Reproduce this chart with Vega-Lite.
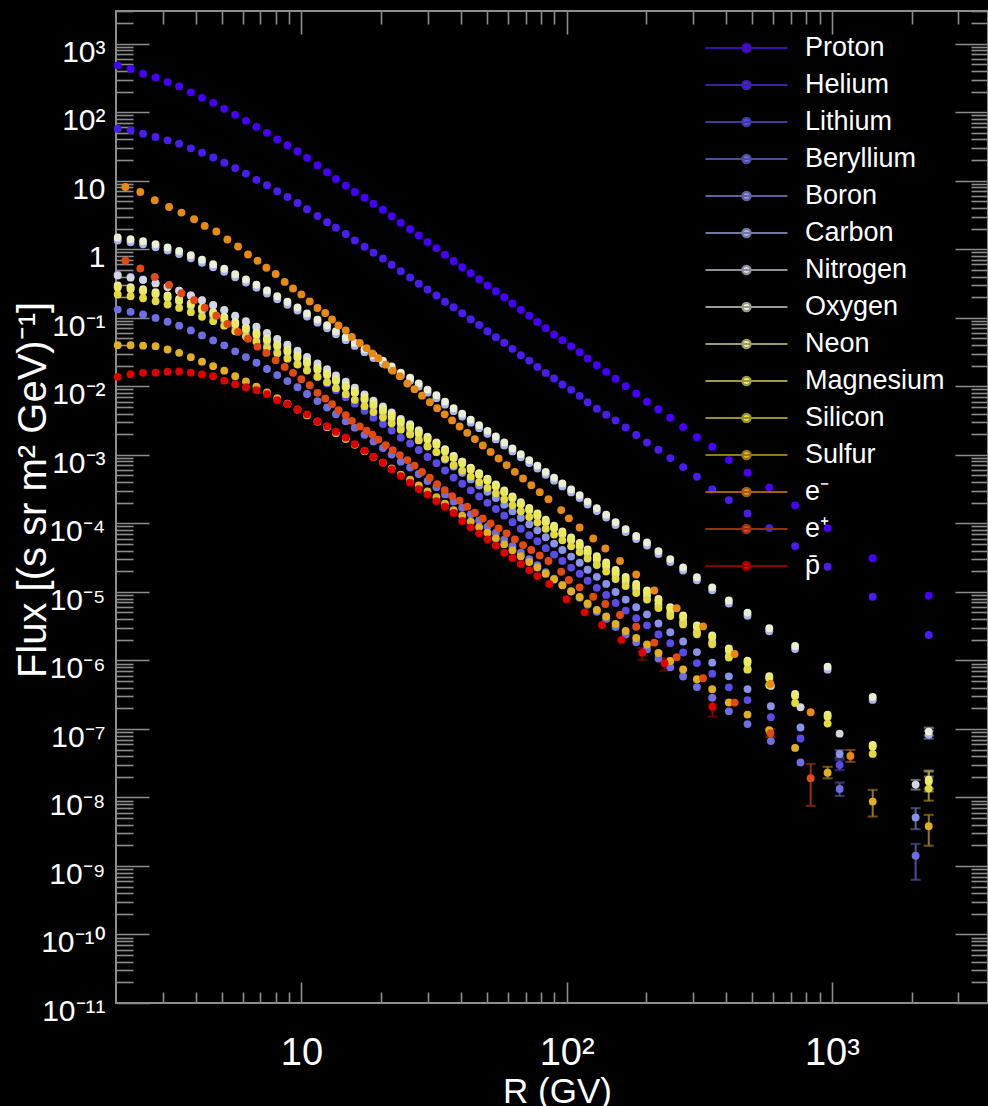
{
"$schema":"https://vega.github.io/schema/vega-lite/v6.json",
"background":"black",
"width":872,"height":992,
"autosize":{"type":"none"},
"padding":{"left":116,"top":11,"right":0,"bottom":103},
"config":{
 "view":{"stroke":"#8c8c8c","strokeWidth":2},
 "axis":{"grid":false,"domain":false,"tickColor":"#8c8c8c","tickWidth":1.6,"labelColor":"#ffffff","titleColor":"#ffffff"},
 "legend":{"symbolType":"M-1,0H1M0.1,0A0.1,0.1,0,1,1,-0.1,0A0.1,0.1,0,1,1,0.1,0Z","symbolSize":6724,"symbolStrokeWidth":2.2,"symbolOpacity":1,"labelFont":"Liberation Sans","labelFontSize":27,"labelColor":"#ffffff","labelOffset":16,"clipHeight":36.57,"rowPadding":0,"padding":0,"labelLimit":300}
},
"resolve":{"axis":{"x":"independent","y":"independent"}},
"data":{"values":[
{"s":"Proton","R":2.03,"F":483},{"s":"Proton","R":2.27,"F":432},{"s":"Proton","R":2.53,"F":365},{"s":"Proton","R":2.82,"F":322},{"s":"Proton","R":3.13,"F":275},{"s":"Proton","R":3.46,"F":238},{"s":"Proton","R":3.83,"F":195},{"s":"Proton","R":4.22,"F":162},{"s":"Proton","R":4.65,"F":137},{"s":"Proton","R":5.12,"F":112},{"s":"Proton","R":5.63,"F":91.5},{"s":"Proton","R":6.18,"F":74.8},{"s":"Proton","R":6.77,"F":61.2},{"s":"Proton","R":7.42,"F":50.0},{"s":"Proton","R":8.11,"F":40.2},{"s":"Proton","R":8.86,"F":32.9},{"s":"Proton","R":9.67,"F":26.9},{"s":"Proton","R":10.5,"F":21.6},{"s":"Proton","R":11.5,"F":16.8},{"s":"Proton","R":12.5,"F":13.3},{"s":"Proton","R":13.5,"F":10.6},{"s":"Proton","R":14.7,"F":8.49},{"s":"Proton","R":15.9,"F":6.85},{"s":"Proton","R":17.3,"F":5.64},{"s":"Proton","R":18.7,"F":4.61},{"s":"Proton","R":20.3,"F":3.77},{"s":"Proton","R":21.9,"F":3.03},{"s":"Proton","R":23.7,"F":2.44},{"s":"Proton","R":25.7,"F":1.96},{"s":"Proton","R":27.7,"F":1.585},{"s":"Proton","R":29.9,"F":1.278},{"s":"Proton","R":32.3,"F":1.035},{"s":"Proton","R":34.8,"F":0.832},{"s":"Proton","R":37.5,"F":0.673},{"s":"Proton","R":40.4,"F":0.547},{"s":"Proton","R":43.5,"F":0.447},{"s":"Proton","R":46.8,"F":0.365},{"s":"Proton","R":50.3,"F":0.2956},{"s":"Proton","R":54.1,"F":0.244},{"s":"Proton","R":58.2,"F":0.1996},{"s":"Proton","R":62.5,"F":0.1615},{"s":"Proton","R":67.2,"F":0.1312},{"s":"Proton","R":72.3,"F":0.1072},{"s":"Proton","R":77.6,"F":0.0871},{"s":"Proton","R":83.4,"F":0.0705},{"s":"Proton","R":89.7,"F":0.0571},{"s":"Proton","R":96.4,"F":0.0471},{"s":"Proton","R":104,"F":0.0385},{"s":"Proton","R":112,"F":0.0315},{"s":"Proton","R":120,"F":0.0255},{"s":"Proton","R":130,"F":0.0203},{"s":"Proton","R":141,"F":0.01624},{"s":"Proton","R":153,"F":0.01293},{"s":"Proton","R":167,"F":0.01005},{"s":"Proton","R":183,"F":0.00781},{"s":"Proton","R":201,"F":0.00597},{"s":"Proton","R":222,"F":0.00464},{"s":"Proton","R":246,"F":0.00347},{"s":"Proton","R":275,"F":0.00254},{"s":"Proton","R":310,"F":0.00181},{"s":"Proton","R":354,"F":0.00131},{"s":"Proton","R":409,"F":0.000838},{"s":"Proton","R":481,"F":0.000547},{"s":"Proton","R":581,"F":0.000335},{"s":"Proton","R":727,"F":0.000183},{"s":"Proton","R":964,"F":8.53e-5},{"s":"Proton","R":1426,"F":3.09e-5},{"s":"Proton","R":2320,"F":8.79e-6},
{"s":"Helium","R":2.03,"F":57.6},{"s":"Helium","R":2.27,"F":54.4},{"s":"Helium","R":2.53,"F":48.7},{"s":"Helium","R":2.82,"F":43.4},{"s":"Helium","R":3.13,"F":38.9},{"s":"Helium","R":3.46,"F":34.6},{"s":"Helium","R":3.83,"F":29.7},{"s":"Helium","R":4.22,"F":25.6},{"s":"Helium","R":4.65,"F":21.8},{"s":"Helium","R":5.12,"F":18.3},{"s":"Helium","R":5.63,"F":15.3},{"s":"Helium","R":6.18,"F":12.7},{"s":"Helium","R":6.77,"F":10.3},{"s":"Helium","R":7.42,"F":8.58},{"s":"Helium","R":8.11,"F":7.01},{"s":"Helium","R":8.86,"F":5.79},{"s":"Helium","R":9.67,"F":4.74},{"s":"Helium","R":10.5,"F":3.83},{"s":"Helium","R":11.5,"F":3.06},{"s":"Helium","R":12.5,"F":2.48},{"s":"Helium","R":13.5,"F":2.06},{"s":"Helium","R":14.7,"F":1.672},{"s":"Helium","R":15.9,"F":1.34},{"s":"Helium","R":17.3,"F":1.088},{"s":"Helium","R":18.7,"F":0.889},{"s":"Helium","R":20.3,"F":0.732},{"s":"Helium","R":21.9,"F":0.594},{"s":"Helium","R":23.7,"F":0.478},{"s":"Helium","R":25.7,"F":0.387},{"s":"Helium","R":27.7,"F":0.314},{"s":"Helium","R":29.9,"F":0.2585},{"s":"Helium","R":32.3,"F":0.2113},{"s":"Helium","R":34.8,"F":0.1716},{"s":"Helium","R":37.5,"F":0.1427},{"s":"Helium","R":40.4,"F":0.1166},{"s":"Helium","R":43.5,"F":0.0954},{"s":"Helium","R":46.8,"F":0.0785},{"s":"Helium","R":50.3,"F":0.0637},{"s":"Helium","R":54.1,"F":0.0521},{"s":"Helium","R":58.2,"F":0.0433},{"s":"Helium","R":62.5,"F":0.0352},{"s":"Helium","R":67.2,"F":0.0285},{"s":"Helium","R":72.3,"F":0.0237},{"s":"Helium","R":77.6,"F":0.0192},{"s":"Helium","R":83.4,"F":0.0157},{"s":"Helium","R":89.7,"F":0.01302},{"s":"Helium","R":96.4,"F":0.01064},{"s":"Helium","R":104,"F":0.00888},{"s":"Helium","R":112,"F":0.00726},{"s":"Helium","R":120,"F":0.00587},{"s":"Helium","R":130,"F":0.00472},{"s":"Helium","R":141,"F":0.00386},{"s":"Helium","R":153,"F":0.00318},{"s":"Helium","R":167,"F":0.00251},{"s":"Helium","R":183,"F":0.00195},{"s":"Helium","R":201,"F":0.001508},{"s":"Helium","R":222,"F":0.001184},{"s":"Helium","R":246,"F":0.000896},{"s":"Helium","R":275,"F":0.000662},{"s":"Helium","R":310,"F":0.000478},{"s":"Helium","R":354,"F":0.000313},{"s":"Helium","R":409,"F":0.0002186},{"s":"Helium","R":481,"F":0.0001398},{"s":"Helium","R":581,"F":8.53e-5},{"s":"Helium","R":727,"F":4.66e-5},{"s":"Helium","R":964,"F":2.33e-5},{"s":"Helium","R":1426,"F":8.5e-6},{"s":"Helium","R":2320,"F":2.35e-6},
{"s":"Lithium","R":2.03,"F":0.2946},{"s":"Lithium","R":2.27,"F":0.2733},{"s":"Lithium","R":2.53,"F":0.2509},{"s":"Lithium","R":2.82,"F":0.2228},{"s":"Lithium","R":3.13,"F":0.1959},{"s":"Lithium","R":3.46,"F":0.1719},{"s":"Lithium","R":3.83,"F":0.1464},{"s":"Lithium","R":4.22,"F":0.1238},{"s":"Lithium","R":4.65,"F":0.1048},{"s":"Lithium","R":5.12,"F":0.0887},{"s":"Lithium","R":5.63,"F":0.0725},{"s":"Lithium","R":6.18,"F":0.0598},{"s":"Lithium","R":6.77,"F":0.0495},{"s":"Lithium","R":7.42,"F":0.0401},{"s":"Lithium","R":8.11,"F":0.0326},{"s":"Lithium","R":8.86,"F":0.0267},{"s":"Lithium","R":9.67,"F":0.02165},{"s":"Lithium","R":10.5,"F":0.01731},{"s":"Lithium","R":11.5,"F":0.01361},{"s":"Lithium","R":12.5,"F":0.01098},{"s":"Lithium","R":13.5,"F":0.00875},{"s":"Lithium","R":14.7,"F":0.00694},{"s":"Lithium","R":15.9,"F":0.00558},{"s":"Lithium","R":17.3,"F":0.00438},{"s":"Lithium","R":18.7,"F":0.00349},{"s":"Lithium","R":20.3,"F":0.00282},{"s":"Lithium","R":21.9,"F":0.00226},{"s":"Lithium","R":23.7,"F":0.001779},{"s":"Lithium","R":25.7,"F":0.001464},{"s":"Lithium","R":27.7,"F":0.001175},{"s":"Lithium","R":29.9,"F":0.000929},{"s":"Lithium","R":32.3,"F":0.000752},{"s":"Lithium","R":34.8,"F":0.000591},{"s":"Lithium","R":37.5,"F":0.000465},{"s":"Lithium","R":40.4,"F":0.000379},{"s":"Lithium","R":43.5,"F":0.000303},{"s":"Lithium","R":46.8,"F":0.000246},{"s":"Lithium","R":50.3,"F":0.0001992},{"s":"Lithium","R":54.1,"F":0.0001617},{"s":"Lithium","R":58.2,"F":0.0001294},{"s":"Lithium","R":62.5,"F":0.0001037},{"s":"Lithium","R":67.2,"F":8.33e-5},{"s":"Lithium","R":72.3,"F":6.71e-5},{"s":"Lithium","R":77.6,"F":5.47e-5},{"s":"Lithium","R":83.4,"F":4.34e-5},{"s":"Lithium","R":89.7,"F":3.5e-5},{"s":"Lithium","R":96.4,"F":2.82e-5},{"s":"Lithium","R":104,"F":2.26e-5},{"s":"Lithium","R":112,"F":1.835e-5},{"s":"Lithium","R":120,"F":1.451e-5},{"s":"Lithium","R":130,"F":1.146e-5},{"s":"Lithium","R":141,"F":9.03e-6},{"s":"Lithium","R":153,"F":6.88e-6},{"s":"Lithium","R":167,"F":5.33e-6},{"s":"Lithium","R":183,"F":4.13e-6},{"s":"Lithium","R":201,"F":3.25e-6},{"s":"Lithium","R":222,"F":2.384e-6},{"s":"Lithium","R":246,"F":1.777e-6},{"s":"Lithium","R":275,"F":1.305e-6},{"s":"Lithium","R":310,"F":9.13e-7},{"s":"Lithium","R":354,"F":6.4e-7},{"s":"Lithium","R":409,"F":4.04e-7},{"s":"Lithium","R":481,"F":2.633e-7},{"s":"Lithium","R":589,"F":1.486e-7},{"s":"Lithium","R":762,"F":7.25e-8},{"s":"Lithium","R":1070,"F":2.98e-8,"lo":2.5e-8,"hi":3.5e-8},
{"s":"Beryllium","R":2.03,"F":0.1316},{"s":"Beryllium","R":2.27,"F":0.1221},{"s":"Beryllium","R":2.53,"F":0.1121},{"s":"Beryllium","R":2.82,"F":0.0995},{"s":"Beryllium","R":3.13,"F":0.0875},{"s":"Beryllium","R":3.46,"F":0.0768},{"s":"Beryllium","R":3.83,"F":0.0654},{"s":"Beryllium","R":4.22,"F":0.0553},{"s":"Beryllium","R":4.65,"F":0.0468},{"s":"Beryllium","R":5.12,"F":0.0396},{"s":"Beryllium","R":5.63,"F":0.0324},{"s":"Beryllium","R":6.18,"F":0.0267},{"s":"Beryllium","R":6.77,"F":0.0221},{"s":"Beryllium","R":7.42,"F":0.0179},{"s":"Beryllium","R":8.11,"F":0.01457},{"s":"Beryllium","R":8.86,"F":0.01192},{"s":"Beryllium","R":9.67,"F":0.00967},{"s":"Beryllium","R":10.5,"F":0.00773},{"s":"Beryllium","R":11.5,"F":0.00608},{"s":"Beryllium","R":12.5,"F":0.00491},{"s":"Beryllium","R":13.5,"F":0.00391},{"s":"Beryllium","R":14.7,"F":0.0031},{"s":"Beryllium","R":15.9,"F":0.00249},{"s":"Beryllium","R":17.3,"F":0.001957},{"s":"Beryllium","R":18.7,"F":0.001559},{"s":"Beryllium","R":20.3,"F":0.00126},{"s":"Beryllium","R":21.9,"F":0.001009},{"s":"Beryllium","R":23.7,"F":0.000795},{"s":"Beryllium","R":25.7,"F":0.000654},{"s":"Beryllium","R":27.7,"F":0.000525},{"s":"Beryllium","R":29.9,"F":0.000415},{"s":"Beryllium","R":32.3,"F":0.000336},{"s":"Beryllium","R":34.8,"F":0.0002643},{"s":"Beryllium","R":37.5,"F":0.0002078},{"s":"Beryllium","R":40.4,"F":0.0001692},{"s":"Beryllium","R":43.5,"F":0.0001352},{"s":"Beryllium","R":46.8,"F":0.0001099},{"s":"Beryllium","R":50.3,"F":8.9e-5},{"s":"Beryllium","R":54.1,"F":7.22e-5},{"s":"Beryllium","R":58.2,"F":5.78e-5},{"s":"Beryllium","R":62.5,"F":4.63e-5},{"s":"Beryllium","R":67.2,"F":3.72e-5},{"s":"Beryllium","R":72.3,"F":3.0e-5},{"s":"Beryllium","R":77.6,"F":2.442e-5},{"s":"Beryllium","R":83.4,"F":1.939e-5},{"s":"Beryllium","R":89.7,"F":1.562e-5},{"s":"Beryllium","R":96.4,"F":1.26e-5},{"s":"Beryllium","R":104,"F":1.009e-5},{"s":"Beryllium","R":112,"F":8.2e-6},{"s":"Beryllium","R":120,"F":6.48e-6},{"s":"Beryllium","R":130,"F":5.12e-6},{"s":"Beryllium","R":141,"F":4.03e-6},{"s":"Beryllium","R":153,"F":3.07e-6},{"s":"Beryllium","R":167,"F":2.38e-6},{"s":"Beryllium","R":183,"F":1.843e-6},{"s":"Beryllium","R":201,"F":1.451e-6},{"s":"Beryllium","R":222,"F":1.065e-6},{"s":"Beryllium","R":246,"F":7.94e-7},{"s":"Beryllium","R":275,"F":5.83e-7},{"s":"Beryllium","R":310,"F":4.08e-7},{"s":"Beryllium","R":354,"F":2.859e-7},{"s":"Beryllium","R":409,"F":1.806e-7},{"s":"Beryllium","R":481,"F":1.176e-7},{"s":"Beryllium","R":589,"F":6.64e-8},{"s":"Beryllium","R":762,"F":3.24e-8},{"s":"Beryllium","R":1070,"F":1.331e-8,"lo":1.05e-8,"hi":1.65e-8},{"s":"Beryllium","R":2070,"F":1.41e-9,"lo":6.28e-10,"hi":2.1e-9},
{"s":"Boron","R":2.03,"F":0.4264},{"s":"Boron","R":2.27,"F":0.3955},{"s":"Boron","R":2.53,"F":0.3631},{"s":"Boron","R":2.82,"F":0.3224},{"s":"Boron","R":3.13,"F":0.2835},{"s":"Boron","R":3.46,"F":0.2488},{"s":"Boron","R":3.83,"F":0.2118},{"s":"Boron","R":4.22,"F":0.1791},{"s":"Boron","R":4.65,"F":0.1517},{"s":"Boron","R":5.12,"F":0.1283},{"s":"Boron","R":5.63,"F":0.1049},{"s":"Boron","R":6.18,"F":0.0865},{"s":"Boron","R":6.77,"F":0.0716},{"s":"Boron","R":7.42,"F":0.058},{"s":"Boron","R":8.11,"F":0.0472},{"s":"Boron","R":8.86,"F":0.0386},{"s":"Boron","R":9.67,"F":0.03133},{"s":"Boron","R":10.5,"F":0.02505},{"s":"Boron","R":11.5,"F":0.0197},{"s":"Boron","R":12.5,"F":0.01589},{"s":"Boron","R":13.5,"F":0.01266},{"s":"Boron","R":14.7,"F":0.01004},{"s":"Boron","R":15.9,"F":0.00807},{"s":"Boron","R":17.3,"F":0.00634},{"s":"Boron","R":18.7,"F":0.00505},{"s":"Boron","R":20.3,"F":0.00408},{"s":"Boron","R":21.9,"F":0.00327},{"s":"Boron","R":23.7,"F":0.002575},{"s":"Boron","R":25.7,"F":0.002119},{"s":"Boron","R":27.7,"F":0.0017},{"s":"Boron","R":29.9,"F":0.001344},{"s":"Boron","R":32.3,"F":0.001088},{"s":"Boron","R":34.8,"F":0.000856},{"s":"Boron","R":37.5,"F":0.000673},{"s":"Boron","R":40.4,"F":0.000548},{"s":"Boron","R":43.5,"F":0.000438},{"s":"Boron","R":46.8,"F":0.000356},{"s":"Boron","R":50.3,"F":0.0002883},{"s":"Boron","R":54.1,"F":0.000234},{"s":"Boron","R":58.2,"F":0.0001873},{"s":"Boron","R":62.5,"F":0.00015},{"s":"Boron","R":67.2,"F":0.0001205},{"s":"Boron","R":72.3,"F":9.71e-5},{"s":"Boron","R":77.6,"F":7.91e-5},{"s":"Boron","R":83.4,"F":6.28e-5},{"s":"Boron","R":89.7,"F":5.06e-5},{"s":"Boron","R":96.4,"F":4.08e-5},{"s":"Boron","R":104,"F":3.27e-5},{"s":"Boron","R":112,"F":2.656e-5},{"s":"Boron","R":120,"F":2.1e-5},{"s":"Boron","R":130,"F":1.658e-5},{"s":"Boron","R":141,"F":1.307e-5},{"s":"Boron","R":153,"F":9.96e-6},{"s":"Boron","R":167,"F":7.71e-6},{"s":"Boron","R":183,"F":5.97e-6},{"s":"Boron","R":201,"F":4.7e-6},{"s":"Boron","R":222,"F":3.45e-6},{"s":"Boron","R":246,"F":2.571e-6},{"s":"Boron","R":275,"F":1.889e-6},{"s":"Boron","R":310,"F":1.321e-6},{"s":"Boron","R":354,"F":9.26e-7},{"s":"Boron","R":409,"F":5.85e-7},{"s":"Boron","R":481,"F":3.81e-7},{"s":"Boron","R":589,"F":2.15e-7},{"s":"Boron","R":762,"F":1.049e-7},{"s":"Boron","R":1070,"F":4.31e-8,"lo":3.8e-8,"hi":4.9e-8},{"s":"Boron","R":2070,"F":5.11e-9,"lo":3.44e-9,"hi":6.97e-9},
{"s":"Carbon","R":2.03,"F":1.34},{"s":"Carbon","R":2.27,"F":1.266},{"s":"Carbon","R":2.53,"F":1.183},{"s":"Carbon","R":2.82,"F":1.069},{"s":"Carbon","R":3.13,"F":0.957},{"s":"Carbon","R":3.46,"F":0.854},{"s":"Carbon","R":3.83,"F":0.739},{"s":"Carbon","R":4.22,"F":0.636},{"s":"Carbon","R":4.65,"F":0.547},{"s":"Carbon","R":5.12,"F":0.47},{"s":"Carbon","R":5.63,"F":0.391},{"s":"Carbon","R":6.18,"F":0.327},{"s":"Carbon","R":6.77,"F":0.275},{"s":"Carbon","R":7.42,"F":0.226},{"s":"Carbon","R":8.11,"F":0.1866},{"s":"Carbon","R":8.86,"F":0.1551},{"s":"Carbon","R":9.67,"F":0.1276},{"s":"Carbon","R":10.5,"F":0.1044},{"s":"Carbon","R":11.5,"F":0.0848},{"s":"Carbon","R":12.5,"F":0.0704},{"s":"Carbon","R":13.5,"F":0.0576},{"s":"Carbon","R":14.7,"F":0.0471},{"s":"Carbon","R":15.9,"F":0.0389},{"s":"Carbon","R":17.3,"F":0.0315},{"s":"Carbon","R":18.7,"F":0.0258},{"s":"Carbon","R":20.3,"F":0.0214},{"s":"Carbon","R":21.9,"F":0.01763},{"s":"Carbon","R":23.7,"F":0.01428},{"s":"Carbon","R":25.7,"F":0.01209},{"s":"Carbon","R":27.7,"F":0.00994},{"s":"Carbon","R":29.9,"F":0.00808},{"s":"Carbon","R":32.3,"F":0.00672},{"s":"Carbon","R":34.8,"F":0.0054},{"s":"Carbon","R":37.5,"F":0.00434},{"s":"Carbon","R":40.4,"F":0.00361},{"s":"Carbon","R":43.5,"F":0.00295},{"s":"Carbon","R":46.8,"F":0.00245},{"s":"Carbon","R":50.3,"F":0.002025},{"s":"Carbon","R":54.1,"F":0.001678},{"s":"Carbon","R":58.2,"F":0.001372},{"s":"Carbon","R":62.5,"F":0.001122},{"s":"Carbon","R":67.2,"F":0.00092},{"s":"Carbon","R":72.3,"F":0.000758},{"s":"Carbon","R":77.6,"F":0.00063},{"s":"Carbon","R":83.4,"F":0.000511},{"s":"Carbon","R":89.7,"F":0.00042},{"s":"Carbon","R":96.4,"F":0.000346},{"s":"Carbon","R":104,"F":0.000283},{"s":"Carbon","R":112,"F":0.0002338},{"s":"Carbon","R":120,"F":0.0001879},{"s":"Carbon","R":130,"F":0.0001511},{"s":"Carbon","R":141,"F":0.0001214},{"s":"Carbon","R":153,"F":9.44e-5},{"s":"Carbon","R":167,"F":7.46e-5},{"s":"Carbon","R":183,"F":5.9e-5},{"s":"Carbon","R":201,"F":4.75e-5},{"s":"Carbon","R":222,"F":3.56e-5},{"s":"Carbon","R":246,"F":2.72e-5},{"s":"Carbon","R":275,"F":2.05e-5},{"s":"Carbon","R":310,"F":1.474e-5},{"s":"Carbon","R":354,"F":1.053e-5},{"s":"Carbon","R":409,"F":6.76e-6},{"s":"Carbon","R":481,"F":4.49e-6},{"s":"Carbon","R":581,"F":2.66e-6},{"s":"Carbon","R":727,"F":1.467e-6},{"s":"Carbon","R":964,"F":7.32e-7},{"s":"Carbon","R":1426,"F":2.65e-7},{"s":"Carbon","R":2320,"F":8.25e-8,"lo":7.2e-8,"hi":9.4e-8},
{"s":"Nitrogen","R":2.03,"F":0.4129},{"s":"Nitrogen","R":2.27,"F":0.3851},{"s":"Nitrogen","R":2.53,"F":0.3558},{"s":"Nitrogen","R":2.82,"F":0.3176},{"s":"Nitrogen","R":3.13,"F":0.2811},{"s":"Nitrogen","R":3.46,"F":0.2481},{"s":"Nitrogen","R":3.83,"F":0.2123},{"s":"Nitrogen","R":4.22,"F":0.1805},{"s":"Nitrogen","R":4.65,"F":0.1537},{"s":"Nitrogen","R":5.12,"F":0.1306},{"s":"Nitrogen","R":5.63,"F":0.1074},{"s":"Nitrogen","R":6.18,"F":0.089},{"s":"Nitrogen","R":6.77,"F":0.074},{"s":"Nitrogen","R":7.42,"F":0.0602},{"s":"Nitrogen","R":8.11,"F":0.0492},{"s":"Nitrogen","R":8.86,"F":0.0405},{"s":"Nitrogen","R":9.67,"F":0.033},{"s":"Nitrogen","R":10.5,"F":0.02676},{"s":"Nitrogen","R":11.5,"F":0.02151},{"s":"Nitrogen","R":12.5,"F":0.0177},{"s":"Nitrogen","R":13.5,"F":0.01435},{"s":"Nitrogen","R":14.7,"F":0.01163},{"s":"Nitrogen","R":15.9,"F":0.00952},{"s":"Nitrogen","R":17.3,"F":0.00763},{"s":"Nitrogen","R":18.7,"F":0.00619},{"s":"Nitrogen","R":20.3,"F":0.0051},{"s":"Nitrogen","R":21.9,"F":0.00416},{"s":"Nitrogen","R":23.7,"F":0.00334},{"s":"Nitrogen","R":25.7,"F":0.002804},{"s":"Nitrogen","R":27.7,"F":0.002288},{"s":"Nitrogen","R":29.9,"F":0.001843},{"s":"Nitrogen","R":32.3,"F":0.001519},{"s":"Nitrogen","R":34.8,"F":0.00121},{"s":"Nitrogen","R":37.5,"F":0.000965},{"s":"Nitrogen","R":40.4,"F":0.000796},{"s":"Nitrogen","R":43.5,"F":0.000645},{"s":"Nitrogen","R":46.8,"F":0.000531},{"s":"Nitrogen","R":50.3,"F":0.000436},{"s":"Nitrogen","R":54.1,"F":0.000358},{"s":"Nitrogen","R":58.2,"F":0.0002906},{"s":"Nitrogen","R":62.5,"F":0.0002357},{"s":"Nitrogen","R":67.2,"F":0.0001918},{"s":"Nitrogen","R":72.3,"F":0.0001565},{"s":"Nitrogen","R":77.6,"F":0.0001292},{"s":"Nitrogen","R":83.4,"F":0.0001038},{"s":"Nitrogen","R":89.7,"F":8.48e-5},{"s":"Nitrogen","R":96.4,"F":6.92e-5},{"s":"Nitrogen","R":104,"F":5.61e-5},{"s":"Nitrogen","R":112,"F":4.6e-5},{"s":"Nitrogen","R":120,"F":3.67e-5},{"s":"Nitrogen","R":130,"F":2.92e-5},{"s":"Nitrogen","R":141,"F":2.327e-5},{"s":"Nitrogen","R":153,"F":1.793e-5},{"s":"Nitrogen","R":167,"F":1.403e-5},{"s":"Nitrogen","R":183,"F":1.099e-5},{"s":"Nitrogen","R":201,"F":8.74e-6},{"s":"Nitrogen","R":222,"F":6.49e-6},{"s":"Nitrogen","R":246,"F":4.9e-6},{"s":"Nitrogen","R":275,"F":3.65e-6},{"s":"Nitrogen","R":310,"F":2.588e-6},{"s":"Nitrogen","R":354,"F":1.822e-6},{"s":"Nitrogen","R":409,"F":1.15e-6},{"s":"Nitrogen","R":481,"F":7.51e-7},{"s":"Nitrogen","R":589,"F":4.24e-7},{"s":"Nitrogen","R":762,"F":2.07e-7},{"s":"Nitrogen","R":1070,"F":8.52e-8},{"s":"Nitrogen","R":2070,"F":1.538e-8,"lo":1.3e-8,"hi":1.8e-8},
{"s":"Oxygen","R":2.03,"F":1.482},{"s":"Oxygen","R":2.27,"F":1.4},{"s":"Oxygen","R":2.53,"F":1.309},{"s":"Oxygen","R":2.82,"F":1.183},{"s":"Oxygen","R":3.13,"F":1.059},{"s":"Oxygen","R":3.46,"F":0.945},{"s":"Oxygen","R":3.83,"F":0.818},{"s":"Oxygen","R":4.22,"F":0.703},{"s":"Oxygen","R":4.65,"F":0.605},{"s":"Oxygen","R":5.12,"F":0.52},{"s":"Oxygen","R":5.63,"F":0.432},{"s":"Oxygen","R":6.18,"F":0.362},{"s":"Oxygen","R":6.77,"F":0.304},{"s":"Oxygen","R":7.42,"F":0.25},{"s":"Oxygen","R":8.11,"F":0.2064},{"s":"Oxygen","R":8.86,"F":0.1716},{"s":"Oxygen","R":9.67,"F":0.1412},{"s":"Oxygen","R":10.5,"F":0.1155},{"s":"Oxygen","R":11.5,"F":0.0938},{"s":"Oxygen","R":12.5,"F":0.0779},{"s":"Oxygen","R":13.5,"F":0.0637},{"s":"Oxygen","R":14.7,"F":0.0521},{"s":"Oxygen","R":15.9,"F":0.043},{"s":"Oxygen","R":17.3,"F":0.0348},{"s":"Oxygen","R":18.7,"F":0.0285},{"s":"Oxygen","R":20.3,"F":0.0237},{"s":"Oxygen","R":21.9,"F":0.0195},{"s":"Oxygen","R":23.7,"F":0.0158},{"s":"Oxygen","R":25.7,"F":0.01337},{"s":"Oxygen","R":27.7,"F":0.011},{"s":"Oxygen","R":29.9,"F":0.00894},{"s":"Oxygen","R":32.3,"F":0.00743},{"s":"Oxygen","R":34.8,"F":0.00597},{"s":"Oxygen","R":37.5,"F":0.0048},{"s":"Oxygen","R":40.4,"F":0.00399},{"s":"Oxygen","R":43.5,"F":0.00326},{"s":"Oxygen","R":46.8,"F":0.00271},{"s":"Oxygen","R":50.3,"F":0.00224},{"s":"Oxygen","R":54.1,"F":0.001856},{"s":"Oxygen","R":58.2,"F":0.001518},{"s":"Oxygen","R":62.5,"F":0.001241},{"s":"Oxygen","R":67.2,"F":0.001018},{"s":"Oxygen","R":72.3,"F":0.000838},{"s":"Oxygen","R":77.6,"F":0.000697},{"s":"Oxygen","R":83.4,"F":0.000565},{"s":"Oxygen","R":89.7,"F":0.000465},{"s":"Oxygen","R":96.4,"F":0.000383},{"s":"Oxygen","R":104,"F":0.000313},{"s":"Oxygen","R":112,"F":0.0002586},{"s":"Oxygen","R":120,"F":0.0002079},{"s":"Oxygen","R":130,"F":0.0001671},{"s":"Oxygen","R":141,"F":0.0001343},{"s":"Oxygen","R":153,"F":0.0001044},{"s":"Oxygen","R":167,"F":8.25e-5},{"s":"Oxygen","R":183,"F":6.53e-5},{"s":"Oxygen","R":201,"F":5.25e-5},{"s":"Oxygen","R":222,"F":3.94e-5},{"s":"Oxygen","R":246,"F":3.01e-5},{"s":"Oxygen","R":275,"F":2.27e-5},{"s":"Oxygen","R":310,"F":1.631e-5},{"s":"Oxygen","R":354,"F":1.165e-5},{"s":"Oxygen","R":409,"F":7.48e-6},{"s":"Oxygen","R":481,"F":4.97e-6},{"s":"Oxygen","R":581,"F":2.94e-6},{"s":"Oxygen","R":727,"F":1.623e-6},{"s":"Oxygen","R":964,"F":8.1e-7},{"s":"Oxygen","R":1426,"F":2.93e-7},{"s":"Oxygen","R":2320,"F":9.13e-8,"lo":8.0e-8,"hi":1.04e-7},
{"s":"Neon","R":2.03,"F":0.2957},{"s":"Neon","R":2.27,"F":0.2793},{"s":"Neon","R":2.53,"F":0.2611},{"s":"Neon","R":2.82,"F":0.236},{"s":"Neon","R":3.13,"F":0.2113},{"s":"Neon","R":3.46,"F":0.1885},{"s":"Neon","R":3.83,"F":0.1632},{"s":"Neon","R":4.22,"F":0.1402},{"s":"Neon","R":4.65,"F":0.1207},{"s":"Neon","R":5.12,"F":0.1037},{"s":"Neon","R":5.63,"F":0.0862},{"s":"Neon","R":6.18,"F":0.0722},{"s":"Neon","R":6.77,"F":0.0606},{"s":"Neon","R":7.42,"F":0.0499},{"s":"Neon","R":8.11,"F":0.0412},{"s":"Neon","R":8.86,"F":0.0342},{"s":"Neon","R":9.67,"F":0.02817},{"s":"Neon","R":10.5,"F":0.02304},{"s":"Neon","R":11.5,"F":0.01871},{"s":"Neon","R":12.5,"F":0.01554},{"s":"Neon","R":13.5,"F":0.01271},{"s":"Neon","R":14.7,"F":0.01039},{"s":"Neon","R":15.9,"F":0.00858},{"s":"Neon","R":17.3,"F":0.00694},{"s":"Neon","R":18.7,"F":0.00569},{"s":"Neon","R":20.3,"F":0.00473},{"s":"Neon","R":21.9,"F":0.00389},{"s":"Neon","R":23.7,"F":0.00315},{"s":"Neon","R":25.7,"F":0.002667},{"s":"Neon","R":27.7,"F":0.002195},{"s":"Neon","R":29.9,"F":0.001784},{"s":"Neon","R":32.3,"F":0.001482},{"s":"Neon","R":34.8,"F":0.001191},{"s":"Neon","R":37.5,"F":0.000958},{"s":"Neon","R":40.4,"F":0.000796},{"s":"Neon","R":43.5,"F":0.00065},{"s":"Neon","R":46.8,"F":0.000541},{"s":"Neon","R":50.3,"F":0.000447},{"s":"Neon","R":54.1,"F":0.00037},{"s":"Neon","R":58.2,"F":0.000303},{"s":"Neon","R":62.5,"F":0.0002476},{"s":"Neon","R":67.2,"F":0.0002031},{"s":"Neon","R":72.3,"F":0.0001672},{"s":"Neon","R":77.6,"F":0.0001391},{"s":"Neon","R":83.4,"F":0.0001127},{"s":"Neon","R":89.7,"F":9.28e-5},{"s":"Neon","R":96.4,"F":7.64e-5},{"s":"Neon","R":104,"F":6.24e-5},{"s":"Neon","R":112,"F":5.16e-5},{"s":"Neon","R":120,"F":4.15e-5},{"s":"Neon","R":130,"F":3.33e-5},{"s":"Neon","R":141,"F":2.68e-5},{"s":"Neon","R":153,"F":2.083e-5},{"s":"Neon","R":167,"F":1.646e-5},{"s":"Neon","R":183,"F":1.303e-5},{"s":"Neon","R":201,"F":1.047e-5},{"s":"Neon","R":222,"F":7.86e-6},{"s":"Neon","R":246,"F":6.0e-6},{"s":"Neon","R":275,"F":4.53e-6},{"s":"Neon","R":310,"F":3.25e-6},{"s":"Neon","R":354,"F":2.32e-6},{"s":"Neon","R":409,"F":1.492e-6},{"s":"Neon","R":481,"F":9.92e-7},{"s":"Neon","R":581,"F":5.87e-7},{"s":"Neon","R":727,"F":3.24e-7},{"s":"Neon","R":964,"F":1.616e-7},{"s":"Neon","R":1426,"F":5.85e-8},{"s":"Neon","R":2320,"F":1.821e-8,"lo":1.35e-8,"hi":2.46e-8},
{"s":"Magnesium","R":2.03,"F":0.2765},{"s":"Magnesium","R":2.27,"F":0.2612},{"s":"Magnesium","R":2.53,"F":0.2443},{"s":"Magnesium","R":2.82,"F":0.2207},{"s":"Magnesium","R":3.13,"F":0.1976},{"s":"Magnesium","R":3.46,"F":0.1763},{"s":"Magnesium","R":3.83,"F":0.1526},{"s":"Magnesium","R":4.22,"F":0.1312},{"s":"Magnesium","R":4.65,"F":0.1129},{"s":"Magnesium","R":5.12,"F":0.097},{"s":"Magnesium","R":5.63,"F":0.0806},{"s":"Magnesium","R":6.18,"F":0.0675},{"s":"Magnesium","R":6.77,"F":0.0567},{"s":"Magnesium","R":7.42,"F":0.0467},{"s":"Magnesium","R":8.11,"F":0.0385},{"s":"Magnesium","R":8.86,"F":0.032},{"s":"Magnesium","R":9.67,"F":0.02635},{"s":"Magnesium","R":10.5,"F":0.02155},{"s":"Magnesium","R":11.5,"F":0.0175},{"s":"Magnesium","R":12.5,"F":0.01454},{"s":"Magnesium","R":13.5,"F":0.01189},{"s":"Magnesium","R":14.7,"F":0.00972},{"s":"Magnesium","R":15.9,"F":0.00802},{"s":"Magnesium","R":17.3,"F":0.00649},{"s":"Magnesium","R":18.7,"F":0.00532},{"s":"Magnesium","R":20.3,"F":0.00442},{"s":"Magnesium","R":21.9,"F":0.00364},{"s":"Magnesium","R":23.7,"F":0.00295},{"s":"Magnesium","R":25.7,"F":0.002495},{"s":"Magnesium","R":27.7,"F":0.002053},{"s":"Magnesium","R":29.9,"F":0.001668},{"s":"Magnesium","R":32.3,"F":0.001386},{"s":"Magnesium","R":34.8,"F":0.001114},{"s":"Magnesium","R":37.5,"F":0.000896},{"s":"Magnesium","R":40.4,"F":0.000745},{"s":"Magnesium","R":43.5,"F":0.000608},{"s":"Magnesium","R":46.8,"F":0.000506},{"s":"Magnesium","R":50.3,"F":0.000418},{"s":"Magnesium","R":54.1,"F":0.000346},{"s":"Magnesium","R":58.2,"F":0.000283},{"s":"Magnesium","R":62.5,"F":0.0002316},{"s":"Magnesium","R":67.2,"F":0.00019},{"s":"Magnesium","R":72.3,"F":0.0001564},{"s":"Magnesium","R":77.6,"F":0.0001301},{"s":"Magnesium","R":83.4,"F":0.0001054},{"s":"Magnesium","R":89.7,"F":8.68e-5},{"s":"Magnesium","R":96.4,"F":7.15e-5},{"s":"Magnesium","R":104,"F":5.84e-5},{"s":"Magnesium","R":112,"F":4.83e-5},{"s":"Magnesium","R":120,"F":3.88e-5},{"s":"Magnesium","R":130,"F":3.12e-5},{"s":"Magnesium","R":141,"F":2.506e-5},{"s":"Magnesium","R":153,"F":1.948e-5},{"s":"Magnesium","R":167,"F":1.539e-5},{"s":"Magnesium","R":183,"F":1.218e-5},{"s":"Magnesium","R":201,"F":9.8e-6},{"s":"Magnesium","R":222,"F":7.35e-6},{"s":"Magnesium","R":246,"F":5.62e-6},{"s":"Magnesium","R":275,"F":4.24e-6},{"s":"Magnesium","R":310,"F":3.04e-6},{"s":"Magnesium","R":354,"F":2.17e-6},{"s":"Magnesium","R":409,"F":1.396e-6},{"s":"Magnesium","R":481,"F":9.27e-7},{"s":"Magnesium","R":581,"F":5.49e-7},{"s":"Magnesium","R":727,"F":3.03e-7},{"s":"Magnesium","R":964,"F":1.511e-7},{"s":"Magnesium","R":1426,"F":5.47e-8},{"s":"Magnesium","R":2320,"F":1.704e-8,"lo":1.22e-8,"hi":2.39e-8},
{"s":"Silicon","R":2.03,"F":0.2186},{"s":"Silicon","R":2.27,"F":0.2065},{"s":"Silicon","R":2.53,"F":0.1931},{"s":"Silicon","R":2.82,"F":0.1745},{"s":"Silicon","R":3.13,"F":0.1562},{"s":"Silicon","R":3.46,"F":0.1394},{"s":"Silicon","R":3.83,"F":0.1207},{"s":"Silicon","R":4.22,"F":0.1037},{"s":"Silicon","R":4.65,"F":0.0892},{"s":"Silicon","R":5.12,"F":0.0767},{"s":"Silicon","R":5.63,"F":0.0637},{"s":"Silicon","R":6.18,"F":0.0534},{"s":"Silicon","R":6.77,"F":0.0448},{"s":"Silicon","R":7.42,"F":0.0369},{"s":"Silicon","R":8.11,"F":0.0304},{"s":"Silicon","R":8.86,"F":0.0253},{"s":"Silicon","R":9.67,"F":0.02083},{"s":"Silicon","R":10.5,"F":0.01704},{"s":"Silicon","R":11.5,"F":0.01384},{"s":"Silicon","R":12.5,"F":0.01149},{"s":"Silicon","R":13.5,"F":0.0094},{"s":"Silicon","R":14.7,"F":0.00768},{"s":"Silicon","R":15.9,"F":0.00634},{"s":"Silicon","R":17.3,"F":0.00513},{"s":"Silicon","R":18.7,"F":0.0042},{"s":"Silicon","R":20.3,"F":0.0035},{"s":"Silicon","R":21.9,"F":0.00288},{"s":"Silicon","R":23.7,"F":0.00233},{"s":"Silicon","R":25.7,"F":0.001972},{"s":"Silicon","R":27.7,"F":0.001623},{"s":"Silicon","R":29.9,"F":0.001319},{"s":"Silicon","R":32.3,"F":0.001096},{"s":"Silicon","R":34.8,"F":0.000881},{"s":"Silicon","R":37.5,"F":0.000708},{"s":"Silicon","R":40.4,"F":0.000589},{"s":"Silicon","R":43.5,"F":0.000481},{"s":"Silicon","R":46.8,"F":0.0004},{"s":"Silicon","R":50.3,"F":0.00033},{"s":"Silicon","R":54.1,"F":0.0002738},{"s":"Silicon","R":58.2,"F":0.0002239},{"s":"Silicon","R":62.5,"F":0.000183},{"s":"Silicon","R":67.2,"F":0.0001502},{"s":"Silicon","R":72.3,"F":0.0001236},{"s":"Silicon","R":77.6,"F":0.0001028},{"s":"Silicon","R":83.4,"F":8.33e-5},{"s":"Silicon","R":89.7,"F":6.86e-5},{"s":"Silicon","R":96.4,"F":5.65e-5},{"s":"Silicon","R":104,"F":4.62e-5},{"s":"Silicon","R":112,"F":3.81e-5},{"s":"Silicon","R":120,"F":3.07e-5},{"s":"Silicon","R":130,"F":2.465e-5},{"s":"Silicon","R":141,"F":1.981e-5},{"s":"Silicon","R":153,"F":1.54e-5},{"s":"Silicon","R":167,"F":1.217e-5},{"s":"Silicon","R":183,"F":9.63e-6},{"s":"Silicon","R":201,"F":7.74e-6},{"s":"Silicon","R":222,"F":5.81e-6},{"s":"Silicon","R":246,"F":4.44e-6},{"s":"Silicon","R":275,"F":3.35e-6},{"s":"Silicon","R":310,"F":2.41e-6},{"s":"Silicon","R":354,"F":1.718e-6},{"s":"Silicon","R":409,"F":1.103e-6},{"s":"Silicon","R":481,"F":7.33e-7},{"s":"Silicon","R":581,"F":4.34e-7},{"s":"Silicon","R":727,"F":2.39e-7},{"s":"Silicon","R":964,"F":1.195e-7},{"s":"Silicon","R":1426,"F":4.32e-8},{"s":"Silicon","R":2320,"F":1.347e-8,"lo":8.98e-9,"hi":2.02e-8},
{"s":"Sulfur","R":2.03,"F":0.0398},{"s":"Sulfur","R":2.27,"F":0.0398},{"s":"Sulfur","R":2.53,"F":0.0392},{"s":"Sulfur","R":2.82,"F":0.0385},{"s":"Sulfur","R":3.13,"F":0.03446},{"s":"Sulfur","R":3.46,"F":0.03075},{"s":"Sulfur","R":3.83,"F":0.02662},{"s":"Sulfur","R":4.22,"F":0.02288},{"s":"Sulfur","R":4.65,"F":0.01969},{"s":"Sulfur","R":5.12,"F":0.01692},{"s":"Sulfur","R":5.63,"F":0.01406},{"s":"Sulfur","R":6.18,"F":0.01178},{"s":"Sulfur","R":6.77,"F":0.00989},{"s":"Sulfur","R":7.42,"F":0.00814},{"s":"Sulfur","R":8.11,"F":0.00672},{"s":"Sulfur","R":8.86,"F":0.00558},{"s":"Sulfur","R":9.67,"F":0.00459},{"s":"Sulfur","R":10.5,"F":0.00376},{"s":"Sulfur","R":11.5,"F":0.00305},{"s":"Sulfur","R":12.5,"F":0.002535},{"s":"Sulfur","R":13.5,"F":0.002073},{"s":"Sulfur","R":14.7,"F":0.001695},{"s":"Sulfur","R":15.9,"F":0.001399},{"s":"Sulfur","R":17.3,"F":0.001132},{"s":"Sulfur","R":18.7,"F":0.000927},{"s":"Sulfur","R":20.3,"F":0.000771},{"s":"Sulfur","R":21.9,"F":0.000635},{"s":"Sulfur","R":23.7,"F":0.000514},{"s":"Sulfur","R":25.7,"F":0.000435},{"s":"Sulfur","R":27.7,"F":0.000358},{"s":"Sulfur","R":29.9,"F":0.000291},{"s":"Sulfur","R":32.3,"F":0.0002418},{"s":"Sulfur","R":34.8,"F":0.0001943},{"s":"Sulfur","R":37.5,"F":0.0001562},{"s":"Sulfur","R":40.4,"F":0.0001298},{"s":"Sulfur","R":43.5,"F":0.0001061},{"s":"Sulfur","R":46.8,"F":8.82e-5},{"s":"Sulfur","R":50.3,"F":7.29e-5},{"s":"Sulfur","R":54.1,"F":6.04e-5},{"s":"Sulfur","R":58.2,"F":4.94e-5},{"s":"Sulfur","R":62.5,"F":4.04e-5},{"s":"Sulfur","R":67.2,"F":3.31e-5},{"s":"Sulfur","R":72.3,"F":2.727e-5},{"s":"Sulfur","R":77.6,"F":2.268e-5},{"s":"Sulfur","R":83.4,"F":1.839e-5},{"s":"Sulfur","R":89.7,"F":1.513e-5},{"s":"Sulfur","R":96.4,"F":1.246e-5},{"s":"Sulfur","R":104,"F":1.019e-5},{"s":"Sulfur","R":112,"F":8.41e-6},{"s":"Sulfur","R":120,"F":6.77e-6},{"s":"Sulfur","R":130,"F":5.44e-6},{"s":"Sulfur","R":141,"F":4.37e-6},{"s":"Sulfur","R":153,"F":3.4e-6},{"s":"Sulfur","R":167,"F":2.685e-6},{"s":"Sulfur","R":183,"F":2.125e-6},{"s":"Sulfur","R":201,"F":1.708e-6},{"s":"Sulfur","R":222,"F":1.282e-6},{"s":"Sulfur","R":246,"F":9.79e-7},{"s":"Sulfur","R":275,"F":7.39e-7},{"s":"Sulfur","R":310,"F":5.31e-7},{"s":"Sulfur","R":354,"F":3.79e-7},{"s":"Sulfur","R":409,"F":2.434e-7},{"s":"Sulfur","R":481,"F":1.617e-7},{"s":"Sulfur","R":581,"F":9.57e-8},{"s":"Sulfur","R":727,"F":5.28e-8},{"s":"Sulfur","R":964,"F":2.3e-8,"lo":1.9e-8,"hi":2.8e-8},{"s":"Sulfur","R":1426,"F":8.7e-9,"lo":5.26e-9,"hi":1.29e-8},{"s":"Sulfur","R":2320,"F":3.8e-9,"lo":1.97e-9,"hi":5.57e-9},
{"s":"e⁻","R":2.17,"F":8.1},{"s":"e⁻","R":2.47,"F":6.85},{"s":"e⁻","R":2.8,"F":5.18},{"s":"e⁻","R":3.17,"F":4.14},{"s":"e⁻","R":3.53,"F":3.43},{"s":"e⁻","R":3.94,"F":2.74},{"s":"e⁻","R":4.32,"F":2.19},{"s":"e⁻","R":4.78,"F":1.813},{"s":"e⁻","R":5.26,"F":1.386},{"s":"e⁻","R":5.77,"F":1.095},{"s":"e⁻","R":6.29,"F":0.84},{"s":"e⁻","R":6.83,"F":0.68},{"s":"e⁻","R":7.38,"F":0.537},{"s":"e⁻","R":8.0,"F":0.436},{"s":"e⁻","R":8.65,"F":0.334},{"s":"e⁻","R":9.3,"F":0.268},{"s":"e⁻","R":10.0,"F":0.2193},{"s":"e⁻","R":10.75,"F":0.1733},{"s":"e⁻","R":11.5,"F":0.1389},{"s":"e⁻","R":12.3,"F":0.1174},{"s":"e⁻","R":13.05,"F":0.0944},{"s":"e⁻","R":13.8,"F":0.0774},{"s":"e⁻","R":14.7,"F":0.0652},{"s":"e⁻","R":15.5,"F":0.0526},{"s":"e⁻","R":16.6,"F":0.0429},{"s":"e⁻","R":17.6,"F":0.036},{"s":"e⁻","R":18.5,"F":0.0301},{"s":"e⁻","R":19.5,"F":0.0257},{"s":"e⁻","R":20.8,"F":0.0207},{"s":"e⁻","R":22.1,"F":0.0169},{"s":"e⁻","R":23.5,"F":0.01406},{"s":"e⁻","R":25.1,"F":0.01097},{"s":"e⁻","R":26.7,"F":0.00909},{"s":"e⁻","R":28.5,"F":0.00731},{"s":"e⁻","R":30.5,"F":0.00585},{"s":"e⁻","R":32.5,"F":0.00478},{"s":"e⁻","R":34.7,"F":0.0039},{"s":"e⁻","R":37.0,"F":0.00318},{"s":"e⁻","R":39.5,"F":0.00259},{"s":"e⁻","R":42.2,"F":0.002095},{"s":"e⁻","R":45.1,"F":0.001696},{"s":"e⁻","R":48.3,"F":0.001368},{"s":"e⁻","R":51.7,"F":0.001103},{"s":"e⁻","R":55.4,"F":0.000884},{"s":"e⁻","R":59.4,"F":0.000708},{"s":"e⁻","R":63.8,"F":0.000565},{"s":"e⁻","R":68.5,"F":0.000452},{"s":"e⁻","R":73.6,"F":0.000361},{"s":"e⁻","R":79.2,"F":0.000285},{"s":"e⁻","R":85.4,"F":0.0002245},{"s":"e⁻","R":95.4,"F":0.0001562},{"s":"e⁻","R":102,"F":0.0001182},{"s":"e⁻","R":112,"F":8.68e-5},{"s":"e⁻","R":126,"F":6.0e-5},{"s":"e⁻","R":140,"F":4.29e-5},{"s":"e⁻","R":159,"F":2.82e-5},{"s":"e⁻","R":183,"F":1.79e-5},{"s":"e⁻","R":214,"F":1.047e-5},{"s":"e⁻","R":260,"F":5.76e-6},{"s":"e⁻","R":327,"F":3.13e-6},{"s":"e⁻","R":430,"F":1.241e-6},{"s":"e⁻","R":587,"F":4.53e-7},{"s":"e⁻","R":832,"F":1.752e-7},{"s":"e⁻","R":1175,"F":4.04e-8,"lo":3.31e-8,"hi":4.93e-8},
{"s":"e⁺","R":2.17,"F":0.68},{"s":"e⁺","R":2.47,"F":0.523},{"s":"e⁺","R":2.8,"F":0.395},{"s":"e⁺","R":3.17,"F":0.3016},{"s":"e⁺","R":3.53,"F":0.2284},{"s":"e⁺","R":3.94,"F":0.1805},{"s":"e⁺","R":4.32,"F":0.1403},{"s":"e⁺","R":4.78,"F":0.1072},{"s":"e⁺","R":5.26,"F":0.0814},{"s":"e⁺","R":5.77,"F":0.0622},{"s":"e⁺","R":6.29,"F":0.0495},{"s":"e⁺","R":6.83,"F":0.0379},{"s":"e⁺","R":7.38,"F":0.0307},{"s":"e⁺","R":8.0,"F":0.02406},{"s":"e⁺","R":8.65,"F":0.0192},{"s":"e⁺","R":9.3,"F":0.01571},{"s":"e⁺","R":10.0,"F":0.01272},{"s":"e⁺","R":10.75,"F":0.01039},{"s":"e⁺","R":11.5,"F":0.00803},{"s":"e⁺","R":12.3,"F":0.00665},{"s":"e⁺","R":13.05,"F":0.00549},{"s":"e⁺","R":13.8,"F":0.00449},{"s":"e⁺","R":14.7,"F":0.0038},{"s":"e⁺","R":15.5,"F":0.00313},{"s":"e⁺","R":16.6,"F":0.0026},{"s":"e⁺","R":17.6,"F":0.002255},{"s":"e⁺","R":18.5,"F":0.001972},{"s":"e⁺","R":19.5,"F":0.001667},{"s":"e⁺","R":20.8,"F":0.001386},{"s":"e⁺","R":22.1,"F":0.001172},{"s":"e⁺","R":23.5,"F":0.000991},{"s":"e⁺","R":25.1,"F":0.000838},{"s":"e⁺","R":26.7,"F":0.000697},{"s":"e⁺","R":28.5,"F":0.000565},{"s":"e⁺","R":30.5,"F":0.000462},{"s":"e⁺","R":32.5,"F":0.000374},{"s":"e⁺","R":34.7,"F":0.000306},{"s":"e⁺","R":37.0,"F":0.00025},{"s":"e⁺","R":39.5,"F":0.0002135},{"s":"e⁺","R":42.2,"F":0.0001745},{"s":"e⁺","R":45.1,"F":0.0001427},{"s":"e⁺","R":48.3,"F":0.0001182},{"s":"e⁺","R":51.7,"F":0.0001},{"s":"e⁺","R":55.4,"F":8.45e-5},{"s":"e⁺","R":59.4,"F":7.14e-5},{"s":"e⁺","R":63.8,"F":5.84e-5},{"s":"e⁺","R":68.5,"F":4.82e-5},{"s":"e⁺","R":73.6,"F":4.08e-5},{"s":"e⁺","R":79.2,"F":3.39e-5},{"s":"e⁺","R":85.4,"F":2.82e-5},{"s":"e⁺","R":95.4,"F":1.968e-5},{"s":"e⁺","R":102,"F":1.489e-5},{"s":"e⁺","R":112,"F":1.165e-5},{"s":"e⁺","R":126,"F":8.5e-6},{"s":"e⁺","R":140,"F":6.65e-6},{"s":"e⁺","R":159,"F":4.6e-6},{"s":"e⁺","R":183,"F":3.1e-6},{"s":"e⁺","R":214,"F":1.813e-6},{"s":"e⁺","R":260,"F":1.111e-6},{"s":"e⁺","R":327,"F":5.49e-7},{"s":"e⁺","R":430,"F":2.42e-7},{"s":"e⁺","R":587,"F":8.66e-8,"lo":7.6e-8,"hi":9.87e-8},{"s":"e⁺","R":832,"F":1.91e-8,"lo":7.53e-9,"hi":3.09e-8},
{"s":"p̄","R":2.03,"F":0.01373},{"s":"p̄","R":2.27,"F":0.01503},{"s":"p̄","R":2.53,"F":0.01571},{"s":"p̄","R":2.82,"F":0.01581},{"s":"p̄","R":3.13,"F":0.01635},{"s":"p̄","R":3.46,"F":0.01646},{"s":"p̄","R":3.83,"F":0.01581},{"s":"p̄","R":4.22,"F":0.01488},{"s":"p̄","R":4.65,"F":0.01406},{"s":"p̄","R":5.12,"F":0.01209},{"s":"p̄","R":5.63,"F":0.01075},{"s":"p̄","R":6.18,"F":0.00972},{"s":"p̄","R":6.77,"F":0.00879},{"s":"p̄","R":7.42,"F":0.00768},{"s":"p̄","R":8.11,"F":0.00628},{"s":"p̄","R":8.86,"F":0.00549},{"s":"p̄","R":9.67,"F":0.0046},{"s":"p̄","R":10.5,"F":0.0039},{"s":"p̄","R":11.5,"F":0.0031},{"s":"p̄","R":12.5,"F":0.00262},{"s":"p̄","R":13.5,"F":0.00218},{"s":"p̄","R":14.7,"F":0.001795},{"s":"p̄","R":15.9,"F":0.001433},{"s":"p̄","R":17.3,"F":0.001152},{"s":"p̄","R":18.7,"F":0.000936},{"s":"p̄","R":20.3,"F":0.000765},{"s":"p̄","R":21.9,"F":0.000613},{"s":"p̄","R":23.7,"F":0.000489},{"s":"p̄","R":25.7,"F":0.000391},{"s":"p̄","R":27.7,"F":0.000316},{"s":"p̄","R":29.9,"F":0.000263},{"s":"p̄","R":32.3,"F":0.0002114},{"s":"p̄","R":34.8,"F":0.0001745},{"s":"p̄","R":37.5,"F":0.0001413},{"s":"p̄","R":40.4,"F":0.000108},{"s":"p̄","R":43.5,"F":8.74e-5},{"s":"p̄","R":46.8,"F":7.14e-5},{"s":"p̄","R":50.3,"F":5.84e-5},{"s":"p̄","R":54.1,"F":4.74e-5},{"s":"p̄","R":58.2,"F":3.72e-5},{"s":"p̄","R":62.5,"F":3.12e-5},{"s":"p̄","R":67.2,"F":2.55e-5},{"s":"p̄","R":72.3,"F":2.08e-5},{"s":"p̄","R":77.6,"F":1.7e-5},{"s":"p̄","R":86,"F":1.302e-5},{"s":"p̄","R":100,"F":7.79e-6},{"s":"p̄","R":117,"F":5.03e-6},{"s":"p̄","R":136,"F":3.29e-6},{"s":"p̄","R":161,"F":1.99e-6},{"s":"p̄","R":193,"F":1.296e-6,"lo":1.014e-6,"hi":1.518e-6},{"s":"p̄","R":234,"F":9.08e-7,"lo":7.08e-7,"hi":1.084e-6},{"s":"p̄","R":355,"F":2.11e-7,"lo":1.51e-7,"hi":2.83e-7}
]},
"layer":[
 {"transform":[{"filter":"isValid(datum.lo)"}],
  "mark":{"type":"rule","strokeWidth":2},
  "encoding":{
   "x":{"field":"R","type":"quantitative","scale":{"type":"log","domain":[2,3880],"nice":false},
    "axis":{"orient":"bottom","values":[10,100,1000],"ticks":false,"domain":false,"labelExpr":"['10','10²','10³'][round(log(datum.value)/LN10)-1]","labelFont":"Liberation Sans","labelFontSize":38,"labelPadding":31,"labelColor":"#ffffff","labelOverlap":false,"labelFlush":false,"title":"R (GV)","titleFont":"Liberation Sans","titleFontSize":35,"titleFontWeight":"normal","titleColor":"#ffffff","titleX":441,"titleY":71,"titleBaseline":"top","titleAlign":"center","titleAngle":0}},
   "y":{"field":"lo","type":"quantitative","scale":{"type":"log","domain":[1e-11,3000],"nice":false},
    "axis":{"orient":"left","values":[1e-11,1e-10,1e-9,1e-8,1e-7,1e-6,1e-5,1e-4,1e-3,0.01,0.1,1,10,100,1000],"ticks":false,"domain":false,"labelExpr":"['10⁻¹¹','10⁻¹⁰','10⁻⁹','10⁻⁸','10⁻⁷','10⁻⁶','10⁻⁵','10⁻⁴','10⁻³','10⁻²','10⁻¹','1','10','10²','10³'][round(log(datum.value)/LN10)+11]","labelFont":"Liberation Sans","labelFontSize":30,"labelPadding":11,"labelOffset":8.5,"labelBaseline":"middle","labelColor":"#ffffff","labelOverlap":false,"labelFlush":false,"title":"Flux [(s sr m² GeV)⁻¹]","titleFont":"Liberation Sans","titleFontSize":40,"titleFontWeight":"normal","titleColor":"#ffffff","titleAngle":-90,"titleX":-83,"titleY":478.5,"titleAlign":"center","titleBaseline":"middle"}},
   "y2":{"field":"hi"},
   "stroke":{"field":"s","type":"nominal",
    "scale":{"domain":["Proton","Helium","Lithium","Beryllium","Boron","Carbon","Nitrogen","Oxygen","Neon","Magnesium","Silicon","Sulfur","e⁻","e⁺","p̄"],
     "range":["#3c10a8","#3a22a0","#4238a0","#4e4e98","#5e6298","#72789e","#8a8e98","#9a9c8c","#9c9c6c","#9c9c44","#969030","#967418","#a05c10","#983010","#8c0000"]},
    "legend":{"orient":"none","legendX":588,"legendY":18.7,"title":null,"direction":"vertical"}}
  }},
 {"transform":[{"filter":"isValid(datum.lo)"},{"fold":["lo","hi"],"as":["end","v"]}],
  "mark":{"type":"tick","orient":"horizontal","size":8,"thickness":0.1,"filled":false,"strokeWidth":2},
  "encoding":{
   "x":{"field":"R","type":"quantitative","scale":{"type":"log","domain":[2,3880],"nice":false},"axis":null},
   "y":{"field":"v","type":"quantitative","scale":{"type":"log","domain":[1e-11,3000],"nice":false},"axis":null},
   "stroke":{"field":"s","type":"nominal",
    "scale":{"domain":["Proton","Helium","Lithium","Beryllium","Boron","Carbon","Nitrogen","Oxygen","Neon","Magnesium","Silicon","Sulfur","e⁻","e⁺","p̄"],
     "range":["#3c10a8","#3a22a0","#4238a0","#4e4e98","#5e6298","#72789e","#8a8e98","#9a9c8c","#9c9c6c","#9c9c44","#969030","#967418","#a05c10","#983010","#8c0000"]},
    "legend":{"orient":"none","legendX":588,"legendY":18.7,"title":null,"direction":"vertical"}}
  }},
 {"mark":{"type":"point","filled":true,"size":62,"opacity":1},
  "encoding":{
   "x":{"field":"R","type":"quantitative","scale":{"type":"log","domain":[2,3880],"nice":false},
    "axis":{"orient":"bottom","values":[10,100,1000],"labels":false,"domain":false,"ticks":true,"tickSize":-21,"title":null}},
   "y":{"field":"F","type":"quantitative","scale":{"type":"log","domain":[1e-11,3000],"nice":false},
    "axis":{"orient":"left","values":[1e-11,1e-10,1e-9,1e-8,1e-7,1e-6,1e-5,1e-4,1e-3,0.01,0.1,1,10,100,1000],"labels":false,"domain":false,"ticks":true,"tickSize":-33,"title":null}},
   "fill":{"field":"s","type":"nominal",
    "scale":{"domain":["Proton","Helium","Lithium","Beryllium","Boron","Carbon","Nitrogen","Oxygen","Neon","Magnesium","Silicon","Sulfur","e⁻","e⁺","p̄"],
     "range":["#4600ff","#4a1cf2","#5a4ae8","#6e6ee2","#8a92ea","#aab2ea","#d2d6e2","#eaeed6","#ececa0","#eaea60","#e2da3c","#e0b020","#e88a12","#e24a12","#e00000"]},
    "legend":{"orient":"none","legendX":588,"legendY":18.7,"title":null,"direction":"vertical"}}
  }},
 {"transform":[{"filter":"false"}],"mark":"point",
  "encoding":{
   "x":{"field":"R","type":"quantitative","scale":{"type":"log","domain":[2,3880],"nice":false},
    "axis":{"orient":"bottom","values":[3,4,5,6,7,8,9,20,30,40,50,60,70,80,90,200,300,400,500,600,700,800,900,2000,3000],"labels":false,"domain":false,"ticks":true,"tickSize":-11,"title":null}},
   "y":{"field":"F","type":"quantitative","scale":{"type":"log","domain":[1e-11,3000],"nice":false},
    "axis":{"orient":"left","values":[2e-11,3e-11,4e-11,5e-11,6e-11,7e-11,8e-11,9e-11,2e-10,3e-10,4e-10,5e-10,6e-10,7e-10,8e-10,9e-10,2e-9,3e-9,4e-9,5e-9,6e-9,7e-9,8e-9,9e-9,2e-8,3e-8,4e-8,5e-8,6e-8,7e-8,8e-8,9e-8,2e-7,3e-7,4e-7,5e-7,6e-7,7e-7,8e-7,9e-7,2e-6,3e-6,4e-6,5e-6,6e-6,7e-6,8e-6,9e-6,2e-5,3e-5,4e-5,5e-5,6e-5,7e-5,8e-5,9e-5,2e-4,3e-4,4e-4,5e-4,6e-4,7e-4,8e-4,9e-4,0.002,0.003,0.004,0.005,0.006,0.007,0.008,0.009,0.02,0.03,0.04,0.05,0.06,0.07,0.08,0.09,0.2,0.3,0.4,0.5,0.6,0.7,0.8,0.9,2,3,4,5,6,7,8,9,20,30,40,50,60,70,80,90,200,300,400,500,600,700,800,900,2000,3000],"labels":false,"domain":false,"ticks":true,"tickSize":-17,"title":null}}
  }},
 {"transform":[{"filter":"false"}],"mark":"point",
  "encoding":{
   "x":{"field":"R","type":"quantitative","scale":{"type":"log","domain":[2,3880],"nice":false},
    "axis":{"orient":"top","values":[10,100,1000],"labels":false,"domain":false,"ticks":true,"tickSize":-23,"title":null}},
   "y":{"field":"F","type":"quantitative","scale":{"type":"log","domain":[1e-11,3000],"nice":false},
    "axis":{"orient":"right","values":[1e-11,1e-10,1e-9,1e-8,1e-7,1e-6,1e-5,1e-4,1e-3,0.01,0.1,1,10,100,1000],"labels":false,"domain":false,"ticks":true,"tickSize":-33,"title":null}}
  }},
 {"transform":[{"filter":"false"}],"mark":"point",
  "encoding":{
   "x":{"field":"R","type":"quantitative","scale":{"type":"log","domain":[2,3880],"nice":false},
    "axis":{"orient":"top","values":[3,4,5,6,7,8,9,20,30,40,50,60,70,80,90,200,300,400,500,600,700,800,900,2000,3000],"labels":false,"domain":false,"ticks":true,"tickSize":-13,"title":null}},
   "y":{"field":"F","type":"quantitative","scale":{"type":"log","domain":[1e-11,3000],"nice":false},
    "axis":{"orient":"right","values":[2e-11,3e-11,4e-11,5e-11,6e-11,7e-11,8e-11,9e-11,2e-10,3e-10,4e-10,5e-10,6e-10,7e-10,8e-10,9e-10,2e-9,3e-9,4e-9,5e-9,6e-9,7e-9,8e-9,9e-9,2e-8,3e-8,4e-8,5e-8,6e-8,7e-8,8e-8,9e-8,2e-7,3e-7,4e-7,5e-7,6e-7,7e-7,8e-7,9e-7,2e-6,3e-6,4e-6,5e-6,6e-6,7e-6,8e-6,9e-6,2e-5,3e-5,4e-5,5e-5,6e-5,7e-5,8e-5,9e-5,2e-4,3e-4,4e-4,5e-4,6e-4,7e-4,8e-4,9e-4,0.002,0.003,0.004,0.005,0.006,0.007,0.008,0.009,0.02,0.03,0.04,0.05,0.06,0.07,0.08,0.09,0.2,0.3,0.4,0.5,0.6,0.7,0.8,0.9,2,3,4,5,6,7,8,9,20,30,40,50,60,70,80,90,200,300,400,500,600,700,800,900,2000,3000],"labels":false,"domain":false,"ticks":true,"tickSize":-17,"title":null}}
  }}
]
}
